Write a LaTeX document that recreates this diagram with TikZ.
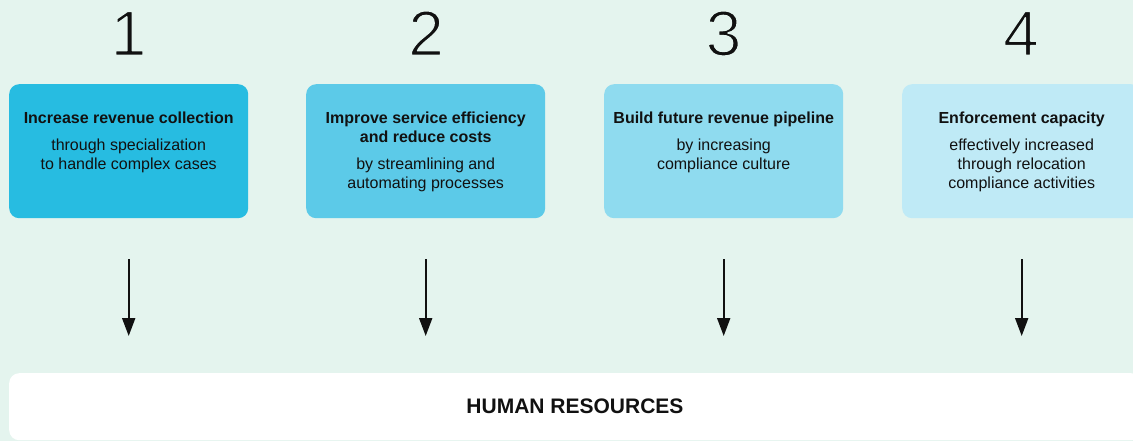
\documentclass[tikz,border=0pt]{standalone}
\usepackage{fontspec}
\setmainfont{Liberation Sans}
\usetikzlibrary{arrows.meta,calc}

\definecolor{bgmint}{HTML}{E4F4EE}
\definecolor{cardone}{HTML}{27BCE1}
\definecolor{cardtwo}{HTML}{5CCAE8}
\definecolor{cardthree}{HTML}{8FDBEF}
\definecolor{cardfour}{HTML}{BFEAF6}
\definecolor{inkblack}{HTML}{111111}

% light-weight numerals: fill the glyph, then stroke its outline in the
% background colour so the strokes come out thinner
\newcommand\lightdigit[1]{%
  \special{pdf:literal direct 2 Tr 1.5 w 1 j 0.894 0.957 0.933 RG}#1%
  \special{pdf:literal direct 0 Tr}}

\begin{document}
\begin{tikzpicture}[x=1pt,y=-1pt,
  card/.style={rounded corners=10pt, minimum width=239pt, minimum height=134pt,
               inner sep=0pt, anchor=north west, draw=none},
  cardtext/.style={anchor=north, align=center, inner sep=0pt, text=inkblack,
                   font=\fontsize{16}{19}\selectfont},
  numlabel/.style={anchor=base, inner sep=0pt, text=inkblack,
                   font=\fontsize{64}{64}\selectfont},
  flow/.style={line width=2pt, draw=inkblack, -{Triangle[length=18pt,width=13pt]}}]

\useasboundingbox (0,0) rectangle (1133,441);
\clip (0,0) rectangle (1133,441);
\fill[bgmint] (0,0) rectangle (1133,441);

% step numbers
\node[numlabel] (n1) at (128.5,55.5) {\lightdigit{1}};
\node[numlabel] (n2) at (426,55.5) {\lightdigit{2}};
\node[numlabel] (n3) at (723.5,55.5) {\lightdigit{3}};
\node[numlabel] (n4) at (1021,55.5) {\lightdigit{4}};

% goal cards
\node[card, fill=cardone]   (b1) at (9,84) {};
\node[card, fill=cardtwo]   (b2) at (306,84) {};
\node[card, fill=cardthree] (b3) at (604,84) {};
\node[card, fill=cardfour]  (b4) at (902,84) {};

\node[cardtext] (t1) at ($(b1.north)+(0,27.7)$)
  {\textbf{Increase revenue collection}\\[8pt]
   through specialization\\ to handle complex cases};
\node[cardtext] (t2) at ($(b2.north)+(0,27.7)$)
  {\textbf{Improve service efficiency}\\ \textbf{and reduce costs}\\[8pt]
   by streamlining and\\ automating processes};
\node[cardtext] (t3) at ($(b3.north)+(0,27.7)$)
  {\textbf{Build future revenue pipeline}\\[8pt]
   by increasing\\ compliance culture};
\node[cardtext] (t4) at ($(b4.north)+(0,27.7)$)
  {\textbf{Enforcement capacity}\\[8pt]
   effectively increased\\ through relocation\\ compliance activities};

% shared foundation
\node[card, fill=white, minimum width=1132pt, minimum height=67pt] (hr) at (9,373) {};
\node[anchor=base, inner sep=0pt, text=inkblack,
      font=\bfseries\fontsize{21}{25}\selectfont] (hrtext) at (575,413.3) {HUMAN RESOURCES};

% arrows from each card down to the foundation
\foreach \b in {b1,b2,b3,b4}
  \draw[flow] ($(\b.south)+(0,41)$) -- ($(\b.south |- hr.north)+(0,-37)$);

\end{tikzpicture}
\end{document}
